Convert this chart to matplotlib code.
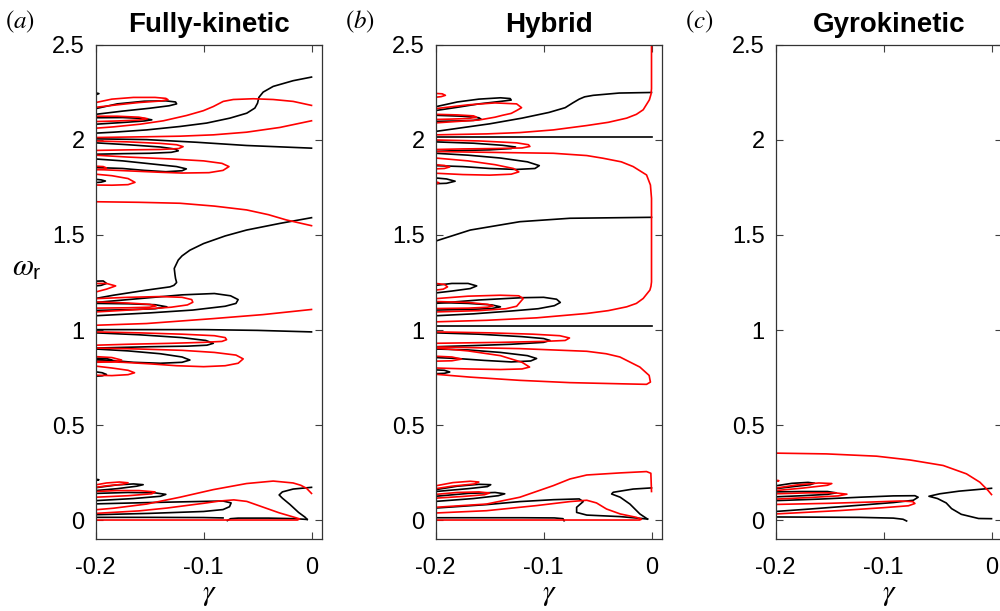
import matplotlib
matplotlib.use("Agg")
import matplotlib.pyplot as plt

plt.rcParams['font.family'] = ['Liberation Sans', 'DejaVu Sans']
plt.rcParams['mathtext.fontset'] = 'stix'

# ---- axis values ----
x_ticks = [-0.2, -0.1, 0]
x_ticklabels = ['-0.2', '-0.1', '0']
y_ticks = [0, 0.5, 1, 1.5, 2, 2.5]
y_ticklabels = ['0', '0.5', '1', '1.5', '2', '2.5']
titles = ['Fully-kinetic', 'Hybrid', 'Gyrokinetic']
panel_tags = ['$(a)$', '$(b)$', '$(c)$']

# ---- panel (a): fully kinetic, (gamma, omega_r) ----
a_black_s = [(0, 2.331), (-0.017, 2.312), (-0.0355, 2.282), (-0.0448, 2.252), (-0.0488, 2.224),
             (-0.050, 2.194), (-0.0525, 2.168), (-0.060, 2.141), (-0.0756, 2.115), (-0.0972, 2.089),
             (-0.1219, 2.071), (-0.1528, 2.053), (-0.1836, 2.041), (-0.2, 2.036)]
a_red_top = [(0, 2.182), (-0.017, 2.203), (-0.0355, 2.213), (-0.054, 2.217), (-0.0725, 2.213),
             (-0.0818, 2.203), (-0.091, 2.176), (-0.1003, 2.154), (-0.1157, 2.129), (-0.1373, 2.101),
             (-0.159, 2.083), (-0.1836, 2.069), (-0.2, 2.062)]
a_red_21 = [(0, 2.101), (-0.0293, 2.066), (-0.0602, 2.041), (-0.091, 2.027), (-0.1219, 2.02),
            (-0.1528, 2.017), (-0.2, 2.013)]
a_black_2 = [(-0.2, 2.006), (-0.1528, 2.002), (-0.1065, 1.988), (-0.0602, 1.971), (0, 1.957)]
a_black_t0 = [(-0.2, 2.248), (-0.197, 2.244), (-0.2, 2.238)]
a_red_t1 = [(-0.2, 2.197), (-0.185, 2.215), (-0.165, 2.224), (-0.145, 2.224), (-0.135, 2.219),
            (-0.133, 2.212), (-0.14, 2.205), (-0.16, 2.197), (-0.18, 2.185), (-0.2, 2.172)]
a_black_t1 = [(-0.2, 2.165), (-0.18, 2.19), (-0.155, 2.204), (-0.135, 2.206), (-0.126, 2.2),
              (-0.125, 2.19), (-0.132, 2.18), (-0.15, 2.167), (-0.175, 2.152), (-0.2, 2.135)]
a_red_t2 = [(-0.2, 2.125), (-0.18, 2.125), (-0.16, 2.12), (-0.152, 2.112), (-0.16, 2.105),
            (-0.18, 2.1), (-0.2, 2.097)]
a_black_t2 = [(-0.2, 2.117), (-0.175, 2.118), (-0.155, 2.113), (-0.148, 2.106), (-0.155, 2.1),
              (-0.175, 2.092), (-0.2, 2.083)]
a_red_t3 = [(-0.2, 1.995), (-0.17, 1.99), (-0.14, 1.982), (-0.125, 1.975), (-0.119, 1.965),
            (-0.123, 1.955), (-0.14, 1.95), (-0.17, 1.948), (-0.2, 1.945)]
a_black_t3 = [(-0.2, 1.985), (-0.17, 1.975), (-0.14, 1.963), (-0.126, 1.952), (-0.1235, 1.943),
              (-0.13, 1.935), (-0.15, 1.93), (-0.175, 1.928), (-0.2, 1.925)]
a_red_t4 = [(-0.2, 1.92), (-0.17, 1.91), (-0.13, 1.9), (-0.1, 1.89), (-0.083, 1.877), (-0.0765, 1.86),
            (-0.082, 1.84), (-0.095, 1.828), (-0.12, 1.826), (-0.14, 1.83), (-0.16, 1.835),
            (-0.18, 1.84), (-0.2, 1.845)]
a_black_t4 = [(-0.2, 1.9), (-0.175, 1.89), (-0.15, 1.875), (-0.125, 1.86), (-0.116, 1.848),
              (-0.12, 1.838), (-0.135, 1.833), (-0.155, 1.84), (-0.175, 1.85), (-0.2, 1.855)]
a_red_t5 = [(-0.2, 1.862), (-0.193, 1.86), (-0.19, 1.853), (-0.193, 1.846), (-0.2, 1.844)]
a_red_t6 = [(-0.2, 1.82), (-0.185, 1.812), (-0.17, 1.797), (-0.1636, 1.777), (-0.17, 1.765),
            (-0.185, 1.762), (-0.2, 1.763)]
a_black_t6 = [(-0.2, 1.793), (-0.195, 1.79), (-0.191, 1.784), (-0.195, 1.778), (-0.2, 1.776)]
a_red_167 = [(-0.2, 1.675), (-0.16, 1.672), (-0.1219, 1.667), (-0.09, 1.652), (-0.0602, 1.632),
             (-0.04, 1.607), (-0.0232, 1.579), (0, 1.549)]
a_black_16 = [(0, 1.591), (-0.0293, 1.561), (-0.0602, 1.526), (-0.08, 1.495), (-0.1, 1.455),
              (-0.1127, 1.42), (-0.12, 1.39), (-0.1235, 1.368), (-0.1272, 1.324), (-0.1265, 1.29),
              (-0.126, 1.271), (-0.125, 1.25), (-0.1275, 1.235), (-0.1312, 1.227),
              (-0.1528, 1.21), (-0.1836, 1.183), (-0.2, 1.166)]
a_black_m0 = [(-0.2, 1.257), (-0.193, 1.258), (-0.19, 1.245), (-0.195, 1.235), (-0.2, 1.232)]
a_red_m0 = [(-0.2, 1.245), (-0.19, 1.245), (-0.1815, 1.232), (-0.19, 1.215), (-0.2, 1.2)]
a_red_m1 = [(-0.2, 1.165), (-0.17, 1.172), (-0.14, 1.176), (-0.12, 1.172), (-0.111, 1.16),
            (-0.11, 1.146), (-0.115, 1.132), (-0.13, 1.12), (-0.16, 1.108), (-0.2, 1.095)]
a_black_m1 = [(-0.2, 1.145), (-0.16, 1.165), (-0.12, 1.185), (-0.09, 1.192), (-0.075, 1.18),
              (-0.068, 1.16), (-0.07, 1.14), (-0.08, 1.125), (-0.11, 1.105), (-0.15, 1.09), (-0.2, 1.075)]
a_black_m2 = [(-0.2, 1.14), (-0.17, 1.138), (-0.145, 1.133), (-0.134, 1.122), (-0.145, 1.112),
              (-0.17, 1.107), (-0.2, 1.103)]
a_red_m2 = [(-0.2, 1.148), (-0.17, 1.142), (-0.15, 1.135), (-0.144, 1.127), (-0.15, 1.12),
            (-0.17, 1.117), (-0.2, 1.115)]
a_red_m_long = [(-0.2, 1.025), (-0.153, 1.034), (-0.091, 1.06), (-0.045, 1.081), (0, 1.108)]
a_black_m_long = [(-0.2, 1.002), (-0.1, 1.002), (-0.05, 0.998), (0, 0.99)]
a_red_m3 = [(-0.2, 0.99), (-0.16, 0.985), (-0.12, 0.978), (-0.09, 0.97), (-0.08, 0.96), (-0.0787, 0.949),
            (-0.083, 0.94), (-0.1, 0.935), (-0.13, 0.93), (-0.17, 0.925), (-0.2, 0.92)]
a_black_m3 = [(-0.2, 0.985), (-0.16, 0.975), (-0.12, 0.96), (-0.098, 0.945), (-0.091, 0.93),
              (-0.097, 0.92), (-0.115, 0.915), (-0.15, 0.912), (-0.2, 0.905)]
a_black_m4 = [(-0.2, 0.9), (-0.17, 0.89), (-0.14, 0.875), (-0.12, 0.858), (-0.1127, 0.842),
              (-0.12, 0.83), (-0.14, 0.825), (-0.165, 0.83), (-0.185, 0.84), (-0.2, 0.845)]
a_red_m4 = [(-0.2, 0.905), (-0.16, 0.9), (-0.12, 0.893), (-0.09, 0.882), (-0.07, 0.868), (-0.0633, 0.848),
            (-0.068, 0.825), (-0.08, 0.812), (-0.1, 0.807), (-0.125, 0.812), (-0.15, 0.822),
            (-0.175, 0.83), (-0.2, 0.835)]
a_red_m5 = [(-0.2, 0.86), (-0.185, 0.855), (-0.176, 0.842), (-0.185, 0.832), (-0.2, 0.83)]
a_black_m5 = [(-0.2, 0.852), (-0.19, 0.85), (-0.185, 0.842), (-0.19, 0.837), (-0.2, 0.836)]
a_red_m6 = [(-0.2, 0.81), (-0.185, 0.8), (-0.17, 0.788), (-0.164, 0.775), (-0.17, 0.765),
            (-0.185, 0.76), (-0.2, 0.762)]
a_black_m6 = [(-0.2, 0.78), (-0.194, 0.775), (-0.19, 0.766), (-0.194, 0.759), (-0.2, 0.757)]
a_black_b0 = [(-0.2, 0.215), (-0.197, 0.212), (-0.2, 0.208)]
a_red_b1 = [(-0.2, 0.185), (-0.19, 0.195), (-0.178, 0.2), (-0.17, 0.196), (-0.175, 0.188),
            (-0.19, 0.18), (-0.2, 0.172)]
a_black_b1 = [(-0.2, 0.17), (-0.18, 0.185), (-0.165, 0.19), (-0.156, 0.186), (-0.162, 0.178),
              (-0.18, 0.165), (-0.2, 0.155)]
a_red_b2 = [(-0.2, 0.15), (-0.18, 0.155), (-0.16, 0.155), (-0.145, 0.148), (-0.148, 0.138),
            (-0.17, 0.128), (-0.2, 0.12)]
a_black_b2 = [(-0.2, 0.14), (-0.17, 0.145), (-0.145, 0.143), (-0.135, 0.135), (-0.14, 0.125),
              (-0.165, 0.113), (-0.2, 0.102)]
a_red_b_long = [(0, 0.14), (-0.0046, 0.167), (-0.01, 0.183), (-0.017, 0.195), (-0.0355, 0.205),
                (-0.0602, 0.192), (-0.091, 0.16), (-0.1219, 0.12), (-0.1528, 0.084),
                (-0.1836, 0.062), (-0.2, 0.054)]
a_black_b3 = [(-0.2, 0.085), (-0.15, 0.092), (-0.1, 0.098), (-0.082, 0.1), (-0.0745, 0.09),
              (-0.076, 0.07), (-0.082, 0.055), (-0.1, 0.045), (-0.15, 0.035), (-0.2, 0.028)]
a_red_b_mid = [(-0.2, 0.035), (-0.16, 0.048), (-0.134, 0.063), (-0.1, 0.088), (-0.085, 0.1),
               (-0.072, 0.106), (-0.06, 0.098), (-0.045, 0.068), (-0.03, 0.038), (-0.018, 0.018),
               (-0.011, 0.006), (-0.013, 0.0), (-0.05, 0.0), (-0.2, 0.0)]
a_black_b_low = [(-0.2, 0.014), (-0.15, 0.014), (-0.1, 0.013), (-0.082, 0.011)]
a_black_b_arch = [(-0.078, -0.003), (-0.075, 0.007), (-0.068, 0.01), (-0.04, 0.01), (-0.015, 0.007),
                  (-0.004, 0.003)]
a_black_b_right = [(0, 0.172), (-0.017, 0.163), (-0.027, 0.148), (-0.03, 0.132), (-0.027, 0.115),
                   (-0.02, 0.082), (-0.012, 0.04), (-0.006, 0.015), (-0.004, 0.003)]

# ---- panel (b): hybrid ----
b_red_top = [(0, 2.5), (0, 2.27), (-0.0005, 2.24), (-0.002, 2.211), (-0.0077, 2.159), (-0.014, 2.135),
             (-0.023, 2.115), (-0.04, 2.093), (-0.06, 2.076), (-0.091, 2.053), (-0.122, 2.039),
             (-0.153, 2.032), (-0.2, 2.027)]
b_black_top = [(0, 2.25), (-0.03, 2.247), (-0.054, 2.235), (-0.062, 2.227), (-0.067, 2.215),
               (-0.073, 2.195), (-0.08, 2.17), (-0.095, 2.145), (-0.12, 2.115), (-0.15, 2.085), (-0.2, 2.045)]
b_black_2 = [(-0.2, 2.015), (0, 2.015)]
b_red_big = [(-0.2, 1.939), (-0.091, 1.93), (-0.06, 1.918), (-0.045, 1.904), (-0.028, 1.885),
             (-0.017, 1.86), (-0.0046, 1.816), (-0.001, 1.763), (0, 1.693), (0, 1.253),
             (-0.0005, 1.23), (-0.0015, 1.21), (-0.0077, 1.166), (-0.014, 1.14), (-0.023, 1.122),
             (-0.04, 1.102), (-0.06, 1.087), (-0.1065, 1.064), (-0.153, 1.051), (-0.2, 1.043)]
b_black_16 = [(-0.2, 1.468), (-0.168, 1.526), (-0.122, 1.57), (-0.0756, 1.588), (0, 1.593)]
b_black_1 = [(-0.2, 1.02), (0, 1.02)]
b_red_low = [(-0.2, 0.911), (-0.122, 0.902), (-0.06, 0.888), (-0.042, 0.875), (-0.0293, 0.858),
             (-0.0108, 0.805), (-0.0022, 0.761), (-0.001, 0.726), (-0.0046, 0.714), (-0.0293, 0.717),
             (-0.0756, 0.723), (-0.122, 0.735), (-0.168, 0.752), (-0.2, 0.767)]
b_red_t0 = [(-0.2, 2.245), (-0.194, 2.243), (-0.191, 2.235), (-0.195, 2.228), (-0.2, 2.225)]
b_black_t1 = [(-0.2, 2.175), (-0.18, 2.2), (-0.16, 2.215), (-0.14, 2.222), (-0.131, 2.218),
              (-0.13, 2.21), (-0.14, 2.203), (-0.16, 2.19), (-0.18, 2.172), (-0.2, 2.155)]
b_red_t1 = [(-0.2, 2.165), (-0.17, 2.185), (-0.145, 2.195), (-0.125, 2.19), (-0.1204, 2.17),
            (-0.125, 2.155), (-0.13, 2.14), (-0.138, 2.13), (-0.145, 2.12), (-0.16, 2.105), (-0.2, 2.09)]
b_black_t2 = [(-0.2, 2.13), (-0.175, 2.125), (-0.16, 2.117), (-0.158, 2.11), (-0.165, 2.103),
              (-0.18, 2.1), (-0.2, 2.098)]
b_red_t2 = [(-0.2, 2.135), (-0.18, 2.132), (-0.165, 2.127), (-0.162, 2.12), (-0.17, 2.113),
            (-0.185, 2.11), (-0.2, 2.108)]
b_red_t3 = [(-0.2, 2.0), (-0.16, 1.995), (-0.125, 1.985), (-0.114, 1.975), (-0.1127, 1.966),
            (-0.12, 1.958), (-0.145, 1.955), (-0.175, 1.953), (-0.2, 1.95)]
b_black_t3 = [(-0.2, 1.99), (-0.165, 1.983), (-0.138, 1.972), (-0.126, 1.963), (-0.13, 1.955),
              (-0.15, 1.948), (-0.175, 1.945), (-0.2, 1.94)]
b_black_t4 = [(-0.2, 1.93), (-0.17, 1.92), (-0.14, 1.905), (-0.115, 1.885), (-0.104, 1.865),
              (-0.108, 1.85), (-0.125, 1.845), (-0.15, 1.85), (-0.175, 1.86), (-0.2, 1.865)]
b_red_t4 = [(-0.2, 1.905), (-0.17, 1.89), (-0.145, 1.87), (-0.128, 1.85), (-0.123, 1.832),
            (-0.13, 1.82), (-0.15, 1.815), (-0.175, 1.818), (-0.2, 1.825)]
b_red_t5 = [(-0.2, 1.87), (-0.192, 1.866), (-0.187, 1.858), (-0.192, 1.85), (-0.2, 1.848)]
b_black_t5 = [(-0.2, 1.8), (-0.19, 1.795), (-0.182, 1.783), (-0.19, 1.772), (-0.2, 1.77)]
b_red_t6 = [(-0.2, 1.78), (-0.197, 1.775), (-0.2, 1.768)]
b_black_m0 = [(-0.2, 1.235), (-0.185, 1.245), (-0.17, 1.245), (-0.162, 1.232), (-0.168, 1.218),
              (-0.185, 1.205), (-0.2, 1.195)]
b_red_m0 = [(-0.2, 1.245), (-0.192, 1.24), (-0.189, 1.227), (-0.193, 1.215), (-0.2, 1.21)]
b_black_m1 = [(-0.2, 1.14), (-0.16, 1.158), (-0.12, 1.17), (-0.1, 1.172), (-0.088, 1.162),
              (-0.0845, 1.145), (-0.09, 1.128), (-0.105, 1.112), (-0.13, 1.1), (-0.165, 1.085), (-0.2, 1.075)]
b_red_m1 = [(-0.2, 1.165), (-0.17, 1.178), (-0.14, 1.183), (-0.123, 1.18), (-0.1188, 1.166),
            (-0.122, 1.145), (-0.125, 1.125), (-0.135, 1.112), (-0.16, 1.102), (-0.2, 1.095)]
b_black_m2 = [(-0.2, 1.145), (-0.17, 1.14), (-0.148, 1.132), (-0.14, 1.122), (-0.148, 1.113),
              (-0.17, 1.108), (-0.2, 1.105)]
b_red_m2 = [(-0.2, 1.15), (-0.17, 1.145), (-0.152, 1.135), (-0.1466, 1.127), (-0.152, 1.12),
            (-0.17, 1.115), (-0.2, 1.113)]
b_red_m3 = [(-0.2, 0.99), (-0.15, 0.985), (-0.11, 0.978), (-0.085, 0.97), (-0.076, 0.958),
            (-0.08, 0.945), (-0.1, 0.94), (-0.14, 0.935), (-0.2, 0.93)]
b_black_m3 = [(-0.2, 0.985), (-0.16, 0.978), (-0.12, 0.965), (-0.1, 0.955), (-0.094, 0.945),
              (-0.1, 0.935), (-0.13, 0.925), (-0.165, 0.918), (-0.2, 0.912)]
b_black_m4 = [(-0.2, 0.9), (-0.17, 0.895), (-0.14, 0.882), (-0.115, 0.865), (-0.1065, 0.85),
              (-0.112, 0.837), (-0.13, 0.832), (-0.155, 0.84), (-0.18, 0.85), (-0.2, 0.855)]
b_red_m4 = [(-0.2, 0.905), (-0.17, 0.89), (-0.14, 0.865), (-0.12, 0.83), (-0.113, 0.805),
            (-0.12, 0.795), (-0.14, 0.792), (-0.17, 0.795), (-0.2, 0.8)]
b_red_m5 = [(-0.2, 0.862), (-0.185, 0.858), (-0.176, 0.847), (-0.185, 0.838), (-0.2, 0.836)]
b_black_m5 = [(-0.2, 0.79), (-0.192, 0.788), (-0.187, 0.779), (-0.192, 0.772), (-0.2, 0.77)]
b_red_b_long = [(-0.2, 0.067), (-0.153, 0.084), (-0.122, 0.12), (-0.091, 0.181), (-0.0756, 0.216),
                (-0.06, 0.237), (-0.029, 0.248), (-0.0046, 0.255), (-0.0006, 0.246), (0, 0.15)]
b_black_b_right = [(0, 0.169), (-0.017, 0.163), (-0.0355, 0.146), (-0.037, 0.137), (-0.029, 0.12),
                   (-0.02, 0.084), (-0.0108, 0.032), (-0.0037, 0.005)]
b_black_b_wig = [(-0.2, 0.063), (-0.153, 0.081), (-0.122, 0.097), (-0.091, 0.107), (-0.067, 0.111),
                 (-0.0633, 0.097), (-0.0694, 0.067), (-0.0694, 0.04), (-0.06, 0.026), (-0.029, 0.018),
                 (-0.0108, 0.009), (-0.0037, 0.005)]
b_red_b_mid = [(-0.2, 0.037), (-0.153, 0.049), (-0.1065, 0.076), (-0.0756, 0.097), (-0.06, 0.104),
               (-0.051, 0.09), (-0.0417, 0.058), (-0.029, 0.032), (-0.0139, 0.014), (-0.0093, 0.004),
               (-0.011, 0.0), (-0.2, 0.0)]
b_black_b_low = [(-0.2, 0.012), (-0.12, 0.012), (-0.09, 0.011), (-0.082, 0.007), (-0.081, -0.004)]
b_red_b1 = [(-0.2, 0.18), (-0.184, 0.197), (-0.168, 0.204), (-0.16, 0.2), (-0.164, 0.19),
            (-0.185, 0.178), (-0.2, 0.165)]
b_black_b1 = [(-0.2, 0.16), (-0.18, 0.178), (-0.16, 0.188), (-0.149, 0.186), (-0.152, 0.176),
              (-0.17, 0.165), (-0.2, 0.15)]
b_red_b2 = [(-0.2, 0.135), (-0.18, 0.145), (-0.16, 0.148), (-0.15, 0.142), (-0.155, 0.133),
            (-0.175, 0.124), (-0.2, 0.115)]
b_black_b2 = [(-0.2, 0.125), (-0.17, 0.14), (-0.145, 0.145), (-0.136, 0.138), (-0.142, 0.128),
              (-0.165, 0.113), (-0.2, 0.098)]

# ---- panel (c): gyrokinetic ----
c_red_long = [(-0.2, 0.352), (-0.153, 0.348), (-0.1065, 0.336), (-0.0756, 0.316), (-0.0448, 0.287),
              (-0.0232, 0.243), (-0.0108, 0.199), (-0.0031, 0.155), (0, 0.134)]
c_black_right = [(0, 0.167), (-0.03, 0.152), (-0.048, 0.138), (-0.058, 0.125), (-0.05, 0.113),
                 (-0.042, 0.09), (-0.037, 0.06), (-0.028, 0.03), (-0.012, 0.008), (0, 0.007)]
c_black_f1 = [(-0.2, 0.102), (-0.16, 0.11), (-0.122, 0.12), (-0.091, 0.127), (-0.071, 0.128),
              (-0.068, 0.12), (-0.0725, 0.104), (-0.091, 0.092), (-0.122, 0.078), (-0.168, 0.058), (-0.2, 0.045)]
c_red_f1 = [(-0.2, 0.082), (-0.15, 0.088), (-0.11, 0.095), (-0.085, 0.1), (-0.073, 0.097),
            (-0.071, 0.087), (-0.077, 0.075), (-0.1, 0.065), (-0.14, 0.05), (-0.2, 0.032)]
c_black_low = [(-0.2, 0.016), (-0.122, 0.014), (-0.091, 0.01), (-0.082, 0.004), (-0.0787, -0.005)]
c_red_t0 = [(-0.2, 0.21), (-0.197, 0.207), (-0.2, 0.203)]
c_black_f0a = [(-0.2, 0.18), (-0.185, 0.193), (-0.17, 0.198), (-0.164, 0.194), (-0.168, 0.186),
               (-0.185, 0.175), (-0.2, 0.165)]
c_red_f0a = [(-0.2, 0.168), (-0.18, 0.185), (-0.16, 0.195), (-0.148, 0.192), (-0.152, 0.183),
             (-0.175, 0.168), (-0.2, 0.155)]
c_black_f0b = [(-0.2, 0.148), (-0.175, 0.15), (-0.152, 0.15), (-0.144, 0.143), (-0.152, 0.135),
               (-0.175, 0.128), (-0.2, 0.122)]
c_red_f0b = [(-0.2, 0.138), (-0.17, 0.143), (-0.145, 0.143), (-0.134, 0.136), (-0.142, 0.127),
             (-0.17, 0.118), (-0.2, 0.11)]

black_sets = [
    [a_black_s, a_black_2, a_black_t0, a_black_t1, a_black_t2, a_black_t3, a_black_t4, a_black_t6,
     a_black_16, a_black_m0, a_black_m1, a_black_m2, a_black_m_long, a_black_m3, a_black_m4,
     a_black_m5, a_black_m6, a_black_b0, a_black_b1, a_black_b2, a_black_b3, a_black_b_low,
     a_black_b_arch, a_black_b_right],
    [b_black_top, b_black_2, b_black_16, b_black_1, b_black_t1, b_black_t2, b_black_t3, b_black_t4,
     b_black_t5, b_black_m0, b_black_m1, b_black_m2, b_black_m3, b_black_m4, b_black_m5,
     b_black_b_right, b_black_b_wig, b_black_b_low, b_black_b1, b_black_b2],
    [c_black_right, c_black_f1, c_black_low, c_black_f0a, c_black_f0b],
]
red_sets = [
    [a_red_top, a_red_21, a_red_t1, a_red_t2, a_red_t3, a_red_t4, a_red_t5, a_red_t6, a_red_167,
     a_red_m0, a_red_m1, a_red_m2, a_red_m_long, a_red_m3, a_red_m4, a_red_m5, a_red_m6,
     a_red_b1, a_red_b2, a_red_b_long, a_red_b_mid],
    [b_red_top, b_red_big, b_red_low, b_red_t0, b_red_t1, b_red_t2, b_red_t3, b_red_t4, b_red_t5,
     b_red_t6, b_red_m0, b_red_m1, b_red_m2, b_red_m3, b_red_m4, b_red_m5, b_red_b_long,
     b_red_b_mid, b_red_b1, b_red_b2],
    [c_red_long, c_red_f1, c_red_t0, c_red_f0a, c_red_f0b],
]

fig = plt.figure(figsize=(10, 6.11), dpi=100)
lefts = [0.0957, 0.4357, 0.7757]

for i in range(3):
    ax = fig.add_axes([lefts[i], 0.1178, 0.2266, 0.8086])
    for curve in black_sets[i]:
        xs, ys = zip(*curve)
        ax.plot(xs, ys, color='black', lw=1.2)
    for curve in red_sets[i]:
        xs, ys = zip(*curve)
        ax.plot(xs, ys, color='red', lw=1.2)
    ax.set_xlim(-0.2, 0.01)
    ax.set_ylim(-0.1, 2.5)
    ax.set_xticks(x_ticks)
    ax.set_xticklabels(x_ticklabels)
    ax.set_yticks(y_ticks)
    ax.set_yticklabels(y_ticklabels)
    ax.tick_params(direction='in', top=True, right=True, length=5, width=0.8,
                   labelsize=17, color='0.25')
    ax.tick_params(axis='x', pad=13)
    ax.tick_params(axis='y', pad=8)
    for sp in ax.spines.values():
        sp.set_linewidth(0.9)
        sp.set_color('0.2')
    ax.set_title(titles[i], fontsize=20, fontweight='bold', pad=9)
    ax.set_xlabel(r'$\gamma$', fontsize=21, labelpad=1)
    fig.text(lefts[i] - 0.091, 1 - 22 / 611, panel_tags[i], fontsize=18, ha='left', va='center')

fig.text(0.027, 1 - 268 / 611, r'$\omega_{\mathregular{r}}$', fontsize=22, ha='center', va='center')

fig.savefig('out.png', dpi=100)
